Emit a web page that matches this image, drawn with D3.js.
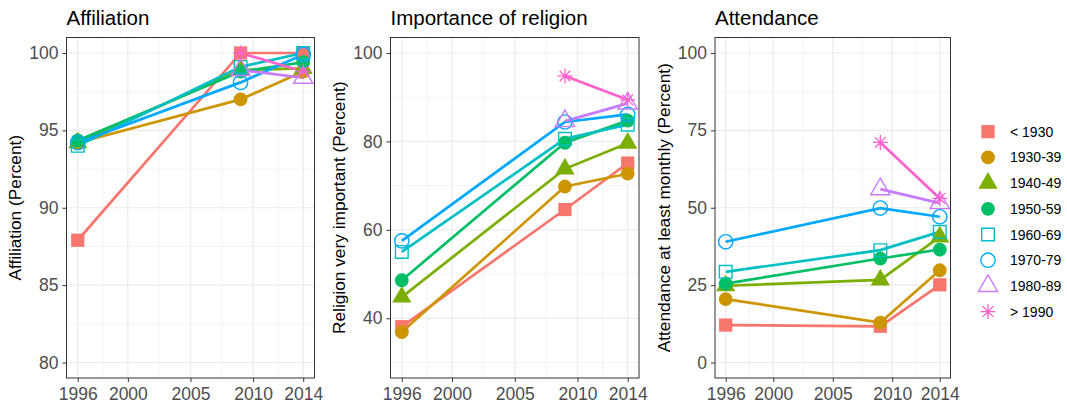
<!DOCTYPE html>
<meta charset="utf-8">
<style>
  body { margin: 0; background: #fff; }
  svg text { font-family: "Liberation Sans", Arial, sans-serif; }
</style>
<script src="https://d3js.org/d3.v7.min.js"></script>
<div id="chart"></div>
<script>

// data
var years = [1996, 2009, 2014];
var cohorts = ["< 1930", "1930-39", "1940-49", "1950-59", "1960-69", "1970-79", "1980-89", "> 1990"];
var cohortColors = ["#F8766D", "#CD9600", "#7CAE00", "#00BE67", "#00BFC4", "#00A9FF", "#C77CFF", "#FF61CC"];
var cohortShapes = ["square", "circle", "triangle", "circle", "squareOpen", "circleOpen", "triangleOpen", "asterisk"];

var affiliation = [
  [87.9, 100, 100],
  [94.2, 97.0, 98.8],
  [94.2, 98.9, 99.0],
  [94.35, 98.8, 99.4],
  [94.0, 99.1, 100],
  [94.2, 98.1, 99.9],
  [null, 98.9, 98.4],
  [null, 100, 98.8]
];
var importance = [
  [38.1, 64.6, 75.1],
  [36.9, 69.8, 72.7],
  [44.8, 73.8, 79.6],
  [48.6, 79.7, 84.7],
  [55.0, 80.6, 83.8],
  [57.5, 84.4, 86.1],
  [null, 84.6, 88.6],
  [null, 94.8, 89.4]
];
var attendance = [
  [12.1, 11.7, 25.1],
  [20.5, 12.9, 29.8],
  [24.8, 26.7, 40.6],
  [25.5, 33.6, 36.5],
  [29.3, 36.3, 42.2],
  [39.0, 49.9, 47.1],
  [null, 56.0, 51.5],
  [null, 71.1, 53.0]
];

var xTicks = [1996, 2000, 2005, 2010, 2014];
var xMinor = [1998, 2002.5, 2007.5, 2012];
var affTicks = [80, 85, 90, 95, 100], affMinor = [82.5, 87.5, 92.5, 97.5];
var impTicks = [40, 60, 80, 100], impMinor = [30, 50, 70, 90];
var attTicks = [0, 25, 50, 75, 100], attMinor = [12.5, 37.5, 62.5, 87.5];

var panels = [
  {title: "Affiliation", ylab: "Affiliation (Percent)", values: affiliation,
   ydom: [79, 101], ticks: affTicks, minor: affMinor, x0: 66.5, x1: 314.5, labx: 15},
  {title: "Importance of religion", ylab: "Religion very important (Percent)", values: importance,
   ydom: [26.5, 103.5], ticks: impTicks, minor: impMinor, x0: 390.5, x1: 639, labx: 339},
  {title: "Attendance", ylab: "Attendance at least monthly (Percent)", values: attendance,
   ydom: [-5, 105], ticks: attTicks, minor: attMinor, x0: 715, x1: 950.5, labx: 664}
];

var plotTop = 37.5, plotBottom = 378;

var svg = d3.select("#chart").append("svg")
    .attr("width", 1067)
    .attr("height", 407);

// draws one point marker, ggplot-ish shapes
function drawShape(g, shape, color, cx, cy) {
  var t = "translate(" + cx + "," + cy + ")";
  if (shape == "square") {
    g.append("path").attr("transform", t).attr("d", d3.symbol(d3.symbolSquare, 175)()).attr("fill", color);
  } else if (shape == "circle") {
    g.append("path").attr("transform", t).attr("d", d3.symbol(d3.symbolCircle, 150)()).attr("fill", color);
  } else if (shape == "triangle") {
    g.append("path").attr("transform", t).attr("d", d3.symbol(d3.symbolTriangle, 160)()).attr("fill", color);
  } else if (shape == "squareOpen") {
    g.append("path").attr("transform", t).attr("d", d3.symbol(d3.symbolSquare, 160)())
      .attr("fill", "none").attr("stroke", color).attr("stroke-width", 1.4);
  } else if (shape == "circleOpen") {
    g.append("path").attr("transform", t).attr("d", d3.symbol(d3.symbolCircle, 160)())
      .attr("fill", "none").attr("stroke", color).attr("stroke-width", 1.4);
  } else if (shape == "triangleOpen") {
    g.append("path").attr("transform", t).attr("d", d3.symbol(d3.symbolTriangle, 160)())
      .attr("fill", "none").attr("stroke", color).attr("stroke-width", 1.4);
  } else if (shape == "asterisk") {
    var r = 7.5, d = "";
    for (var k = 0; k < 8; k++) {
      var a = k * Math.PI / 4;
      d += "M0,0L" + (r * Math.cos(a)).toFixed(2) + "," + (r * Math.sin(a)).toFixed(2);
    }
    g.append("path").attr("transform", t).attr("d", d)
      .attr("fill", "none").attr("stroke", color).attr("stroke-width", 1.3);
  }
}

panels.forEach(function(p) {
  var x = d3.scaleLinear().domain([1995.1, 2014.9]).range([p.x0, p.x1]);
  var y = d3.scaleLinear().domain(p.ydom).range([plotBottom, plotTop]);
  var g = svg.append("g");

  // grid
  g.selectAll(".xminor").data(xMinor).enter().append("line")
    .attr("x1", d => x(d)).attr("x2", d => x(d)).attr("y1", plotTop).attr("y2", plotBottom)
    .attr("stroke", "#ebebeb").attr("stroke-width", 0.6);
  g.selectAll(".yminor").data(p.minor).enter().append("line")
    .attr("y1", d => y(d)).attr("y2", d => y(d)).attr("x1", p.x0).attr("x2", p.x1)
    .attr("stroke", "#ebebeb").attr("stroke-width", 0.6);
  g.selectAll(".xmajor").data(xTicks).enter().append("line")
    .attr("x1", d => x(d)).attr("x2", d => x(d)).attr("y1", plotTop).attr("y2", plotBottom)
    .attr("stroke", "#ebebeb").attr("stroke-width", 1.2);
  g.selectAll(".ymajor").data(p.ticks).enter().append("line")
    .attr("y1", d => y(d)).attr("y2", d => y(d)).attr("x1", p.x0).attr("x2", p.x1)
    .attr("stroke", "#ebebeb").attr("stroke-width", 1.2);

  // lines first, then points
  var line = d3.line()
    .defined(d => d[1] != null)
    .x(d => x(d[0])).y(d => y(d[1]));
  p.values.forEach(function(vals, i) {
    var pts = years.map((yr, j) => [yr, vals[j]]);
    g.append("path").datum(pts).attr("d", line)
      .attr("fill", "none").attr("stroke", cohortColors[i]).attr("stroke-width", 2.7);
  });
  p.values.forEach(function(vals, i) {
    years.forEach(function(yr, j) {
      if (vals[j] == null) return;
      drawShape(g, cohortShapes[i], cohortColors[i], x(yr), y(vals[j]));
    });
  });

  // border
  g.append("rect").attr("x", p.x0).attr("y", plotTop)
    .attr("width", p.x1 - p.x0).attr("height", plotBottom - plotTop)
    .attr("fill", "none").attr("stroke", "#333333").attr("stroke-width", 1);

  // axes
  var xa = g.append("g").attr("transform", "translate(0," + plotBottom + ")")
    .call(d3.axisBottom(x).tickValues(xTicks).tickFormat(d3.format("d")).tickSize(4).tickPadding(3));
  var ya = g.append("g").attr("transform", "translate(" + p.x0 + ",0)")
    .call(d3.axisLeft(y).tickValues(p.ticks).tickSize(4).tickPadding(4));
  [xa, ya].forEach(function(a) {
    a.select(".domain").remove();
    a.selectAll("line").attr("stroke", "#333333");
    a.selectAll("text").attr("fill", "#4d4d4d").style("font-size", "17.5px")
      .style("font-family", "'Liberation Sans', Arial, sans-serif");
  });
  xa.selectAll("text").attr("dy", "0.88em");

  // titles
  g.append("text").attr("x", p.x0).attr("y", 25)
    .style("font-size", "20.5px").attr("fill", "#000").text(p.title);
  g.append("text")
    .attr("transform", "translate(" + (p.labx + 6) + "," + ((plotTop + plotBottom) / 2) + ")rotate(-90)")
    .attr("text-anchor", "middle")
    .style("font-size", "17.3px").attr("fill", "#000").text(p.ylab);
});

// legend
var legend = svg.append("g");
cohorts.forEach(function(c, i) {
  var ly = 131.7 + i * 25.7;
  drawShape(legend, cohortShapes[i], cohortColors[i], 988, ly);
  legend.append("text").attr("x", 1010).attr("y", ly + 5)
    .style("font-size", "14px").attr("fill", "#000").text(c);
});

</script>
